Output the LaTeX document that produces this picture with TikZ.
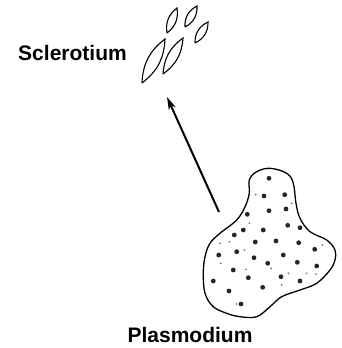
\documentclass[tikz,border=0pt]{standalone}
\usepackage{fontspec}
\setmainfont{Liberation Sans}
\usetikzlibrary{arrows.meta}
\begin{document}
\begin{tikzpicture}[x=1pt,y=-1pt,
  caption/.style={font=\fontsize{21}{24}\selectfont\bfseries, inner sep=0pt, anchor=base},
  outline/.style={line width=1.3pt, black},
  seed/.style={line width=1.1pt, black},
  bigdot/.style={fill=black!85},
  smalldot/.style={fill=black!55},
  growth/.style={line width=2pt, -{Stealth[length=13pt,width=7.5pt]}}]
\useasboundingbox (0,0) rectangle (341,348);

% labels
\node[caption] (scl) at (72.5,60) {Sclerotium};
\node[caption] (pla) at (190,342) {Plasmodium};

% sclerotium grains (pointed lenses)
\draw[seed] (142,83) to[bend left=25] (165,39) to[bend left=25] (142,83);
\draw[seed] (163,74) to[bend left=25] (183,38) to[bend left=25] (163,74);
\draw[seed] (167,33) to[bend left=31] (177,8) to[bend left=31] (167,33);
\draw[seed] (185,27) to[bend left=33] (197,6) to[bend left=33] (185,27);
\draw[seed] (195,43) to[bend left=33] (208,22) to[bend left=33] (195,43);

% plasmodium body
\draw[outline] plot[smooth cycle, tension=0.6] coordinates {
  (249.3,180) (256.7,171.7) (270,168.3) (286.7,173.3) (293.3,183.3)
  (296,203.3) (300,218.3) (310,231.7) (326.7,240) (335,250) (335,260)
  (330,270) (316.7,283.3) (300,290) (281.7,296.7) (270,306.7)
  (256.7,316.7) (240,316.7) (226.7,313.3) (213.3,306.7) (205,293.3)
  (203.3,273.3) (205,256.7) (210,243.3) (220,233.3) (236.7,220)
  (245,206.7) (249.3,193.3)};

% granules inside the plasmodium
\foreach \p in {(269,178.3),(264,196),(284.7,194.7),(269,210.7),(286,209),
  (247.3,214.3),(243.3,230),(234.3,235),(263.3,230),(287.7,225.3),(300,227.7),
  (255.3,242),(276,241),(298.7,242.7),(314.7,249.3),(218.7,255),(236.7,251.7),
  (254,257.7),(283.3,255),(267.7,263.3),(297.3,262.3),(316.7,266),(233.3,270),
  (248.3,277.7),(281,276.7),(300,281),(213.3,281),(229,291),(262.7,287.3),(241,304)}
  \fill[bigdot] \p circle (2.4);
\foreach \p in {(255.7,194.7),(291.7,203.3),(249.3,223.3),(229.3,241.7),(220,243.3),
  (244.3,250),(220.7,263.3),(271,268.3),(246,269.3),(288.3,273.3),(306.7,273.3),
  (316,274),(281.7,285),(322.3,245),(236.7,304)}
  \fill[smalldot] \p circle (1);

% growth arrow from plasmodium to sclerotium
\coordinate (tail) at (219,212);
\coordinate (tip) at (167,97);
\draw[growth] (tail) -- (tip);
\end{tikzpicture}
\end{document}
